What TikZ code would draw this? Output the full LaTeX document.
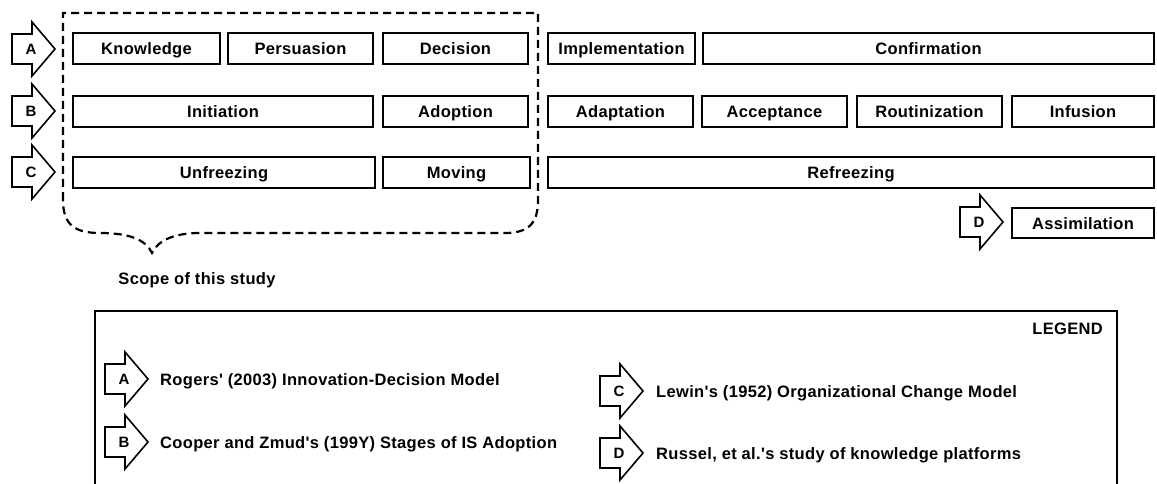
\documentclass[tikz,border=0pt]{standalone}
\usepackage{fontspec}
\newfontfamily\lblfont{Liberation Sans}[LetterSpace=2]
\tikzset{
  lbl/.style={font=\lblfont\fontsize{16.5}{18}\selectfont\bfseries, text height=12pt, text depth=0pt},
  stagebox/.style={draw, line width=2.2pt, inner sep=0pt, minimum height=31pt, lbl},
  arrowshape/.style={draw, line width=1.6pt, line join=miter, fill=white},
  letter/.style={inner sep=0pt, font=\lblfont\fontsize{15}{17}\selectfont\bfseries},
  scopeline/.style={draw, line width=2.2pt, dash pattern=on 8pt off 5pt},
  legendtext/.style={anchor=west, inner sep=0pt, lbl}
}
\newcommand\stagearrow[4]{%
  \draw[arrowshape] (#2-43,#3-15) -- (#2-23,#3-15) -- (#2-23,#3-27) -- (#2,#3)
    -- (#2-23,#3+27) -- (#2-23,#3+15) -- (#2-43,#3+15) -- cycle;
  \node[letter] (#1) at (#2-24,#3) {#4};}
\begin{document}
\begin{tikzpicture}[x=1pt,y=-1pt]
\useasboundingbox[fill=white] (0,0) rectangle (1157,484);

% scope of study dashed brace
\draw[scopeline] (63,200) -- (63,13) -- (538,13) -- (538,200)
  .. controls (538,222) and (530,233) .. (505,233) -- (200,233)
  .. controls (175,233) and (158,240) .. (152,253)
  .. controls (146,240) and (130,233) .. (100,233)
  .. controls (75,233) and (63,225) .. (63,200);
\node[lbl, inner sep=0pt] (scope) at (197,278) {Scope of this study};

% row arrows
\stagearrow{la}{55}{49}{A}
\stagearrow{lb}{55}{111}{B}
\stagearrow{lc}{55}{172}{C}
\stagearrow{ld}{1003}{222}{D}

% row A
\node[stagebox, minimum width=147pt] (know) at (146.5,48.5) {Knowledge};
\node[stagebox, minimum width=145pt] (pers) at (300.5,48.5) {Persuasion};
\node[stagebox, minimum width=145pt] (deci) at (455.5,48.5) {Decision};
\node[stagebox, minimum width=147pt] (impl) at (621.5,48.5) {Implementation};
\node[stagebox, minimum width=451pt] (conf) at (928.5,48.5) {Confirmation};

% row B
\node[stagebox, minimum width=300pt] (init) at (223,111.5) {Initiation};
\node[stagebox, minimum width=145pt] (adop) at (455.5,111.5) {Adoption};
\node[stagebox, minimum width=145pt] (adap) at (620.5,111.5) {Adaptation};
\node[stagebox, minimum width=145pt] (acce) at (774.5,111.5) {Acceptance};
\node[stagebox, minimum width=145pt] (rout) at (929.5,111.5) {Routinization};
\node[stagebox, minimum width=142pt] (infu) at (1083,111.5) {Infusion};

% row C
\node[stagebox, minimum width=302pt] (unfr) at (224,172.5) {Unfreezing};
\node[stagebox, minimum width=147pt] (movi) at (456.5,172.5) {Moving};
\node[stagebox, minimum width=606pt] (refr) at (851,172.5) {Refreezing};

% row D
\node[stagebox, minimum width=142pt, minimum height=30pt] (assi) at (1083,223) {Assimilation};

% legend
\draw[line width=2pt] (95,490) -- (95,311) -- (1117,311) -- (1117,490);
\node[lbl, anchor=east, inner sep=0pt] (legend) at (1103,328) {LEGEND};
\stagearrow{kla}{148}{379}{A}
\stagearrow{klb}{148}{442}{B}
\stagearrow{klc}{643}{391}{C}
\stagearrow{kld}{643}{453}{D}
\node[legendtext] (ta) at (160,379) {Rogers' (2003) Innovation-Decision Model};
\node[legendtext] (tb) at (160,442) {Cooper and Zmud's (199Y) Stages of IS Adoption};
\node[legendtext] (tc) at (656,391) {Lewin's (1952) Organizational Change Model};
\node[legendtext] (td) at (656,453) {Russel, et al.'s study of knowledge platforms};
\end{tikzpicture}
\end{document}
